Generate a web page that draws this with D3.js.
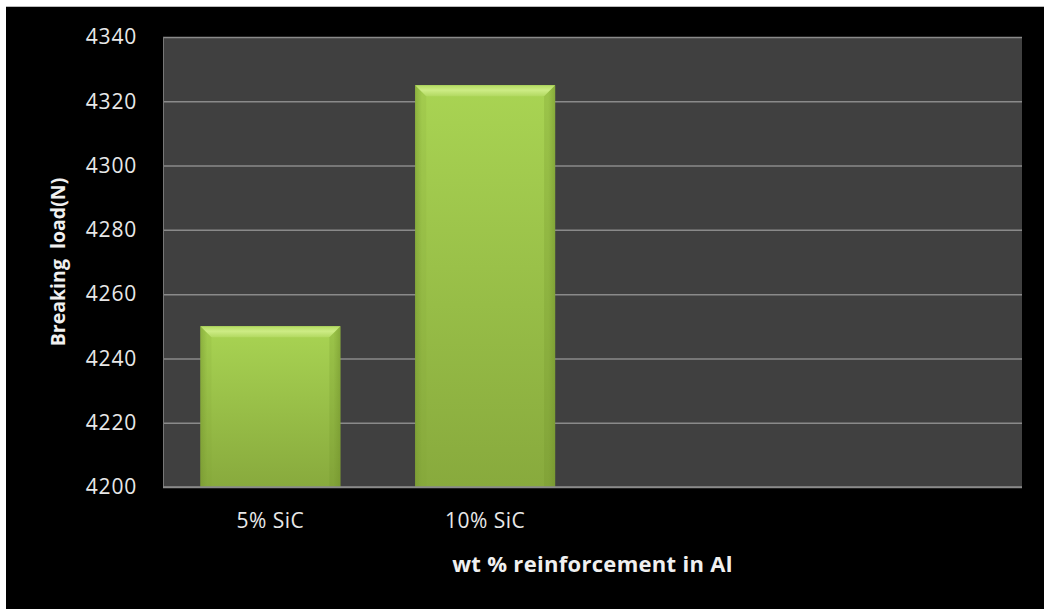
<!DOCTYPE html>
<html>
<head>
<meta charset="utf-8">
<script src="https://cdn.jsdelivr.net/npm/d3@7"></script>
<style>
  body { margin: 0; background: #fff; }
  svg { display: block; }
  text { font-family: "Open Sans", "Noto Sans", sans-serif; }
</style>
</head>
<body>
<script>
// values
var categories = ["5% SiC", "10% SiC", "", ""]
var breakingLoad = [4250, 4325, null, null]
var yTicks = [4200, 4220, 4240, 4260, 4280, 4300, 4320, 4340]

var width = 1044
var height = 609
var margin = {top: 37, right: 22, bottom: 122, left: 163}
var plotW = width - margin.left - margin.right
var plotH = height - margin.top - margin.bottom

var svg = d3.select("body").append("svg")
    .attr("width", width)
    .attr("height", height)

// black frame, white sliver top/left like the screenshot
svg.append("rect")
    .attr("x", 6).attr("y", 7)
    .attr("width", width - 6).attr("height", height - 7)
    .attr("fill", "#000")
svg.append("line")
    .attr("x1", 6).attr("x2", width).attr("y1", 6.5).attr("y2", 6.5)
    .attr("stroke", "#bbb")

var defs = svg.append("defs")
var grad = defs.append("linearGradient")
    .attr("id", "barFill").attr("x1", 0).attr("x2", 0).attr("y1", 0).attr("y2", 1)
grad.append("stop").attr("offset", "0%").attr("stop-color", "#a9d453")
grad.append("stop").attr("offset", "100%").attr("stop-color", "#88aa3d")

var side = defs.append("linearGradient")
    .attr("id", "barSide").attr("x1", 0).attr("x2", 1).attr("y1", 0).attr("y2", 0)
side.append("stop").attr("offset", "0%").attr("stop-color", "#6f8f2a").attr("stop-opacity", 0.45)
side.append("stop").attr("offset", "5%").attr("stop-color", "#6f8f2a").attr("stop-opacity", 0)
side.append("stop").attr("offset", "95%").attr("stop-color", "#6f8f2a").attr("stop-opacity", 0)
side.append("stop").attr("offset", "100%").attr("stop-color", "#6f8f2a").attr("stop-opacity", 0.45)

var bevelGrad = defs.append("linearGradient")
    .attr("id", "bevelFill").attr("x1", 0).attr("x2", 0).attr("y1", 0).attr("y2", 1)
bevelGrad.append("stop").attr("offset", "0%").attr("stop-color", "#b4dc62")
bevelGrad.append("stop").attr("offset", "45%").attr("stop-color", "#cdec85")
bevelGrad.append("stop").attr("offset", "100%").attr("stop-color", "#b2d961")

var g = svg.append("g")
    .attr("transform", "translate(" + margin.left + "," + margin.top + ")")

var x = d3.scaleBand()
    .domain(d3.range(categories.length))
    .range([0, plotW])
    .paddingInner(0.348)
    .paddingOuter(0.174)

var y = d3.scaleLinear()
    .domain([4200, 4340])
    .range([plotH, 0])

g.append("rect")
    .attr("width", plotW).attr("height", plotH)
    .attr("fill", "#404040")

// gridlines
g.append("g")
    .call(d3.axisLeft(y).tickValues(yTicks).tickSize(-plotW).tickFormat(""))
    .call(function(a) {
        a.select(".domain").remove()
        a.selectAll("line").attr("stroke", "#8a8a8a").attr("stroke-width", 1.5)
    })

g.append("line")
    .attr("x1", 0.5).attr("x2", 0.5).attr("y1", 0).attr("y2", plotH)
    .attr("stroke", "#777")

// bars
var data = categories.map(function(c, i) { return {i: i, name: c, v: breakingLoad[i]} })
    .filter(function(d) { return d.v != null })

var bars = g.selectAll(".bar").data(data).enter().append("g").attr("class", "bar")

bars.append("rect")
    .attr("x", function(d) { return x(d.i) })
    .attr("y", function(d) { return y(d.v) })
    .attr("width", x.bandwidth())
    .attr("height", function(d) { return plotH - y(d.v) })
    .attr("fill", "url(#barFill)")
bars.append("rect")
    .attr("x", function(d) { return x(d.i) })
    .attr("y", function(d) { return y(d.v) })
    .attr("width", x.bandwidth())
    .attr("height", function(d) { return plotH - y(d.v) })
    .attr("fill", "url(#barSide)")

// top bevel
var bev = 11
bars.append("path")
    .attr("d", function(d) {
        var x0 = x(d.i), x1 = x0 + x.bandwidth(), t = y(d.v)
        return "M" + x0 + "," + t + "L" + x1 + "," + t + "L" + (x1 - bev) + "," + (t + bev) +
            "L" + (x0 + bev) + "," + (t + bev) + "Z"
    })
    .attr("fill", "url(#bevelFill)")
bars.append("path")
    .attr("d", function(d) {
        var x0 = x(d.i), x1 = x0 + x.bandwidth(), t = y(d.v)
        return "M" + x0 + "," + t + "L" + (x0 + bev) + "," + (t + bev) + "L" + (x0 + bev) + "," + plotH +
            "L" + x0 + "," + plotH + "Z"
    })
    .attr("fill", "#7f9f34").attr("opacity", 0.15)
bars.append("path")
    .attr("d", function(d) {
        var x1 = x(d.i) + x.bandwidth(), t = y(d.v)
        return "M" + x1 + "," + t + "L" + (x1 - bev) + "," + (t + bev) + "L" + (x1 - bev) + "," + plotH +
            "L" + x1 + "," + plotH + "Z"
    })
    .attr("fill", "#6f8f2a").attr("opacity", 0.22)

// bottom line over bars
g.append("line")
    .attr("x1", 0).attr("x2", plotW).attr("y1", plotH).attr("y2", plotH)
    .attr("stroke", "#8a8a8a").attr("stroke-width", 1.5)

// y axis labels
g.append("g")
    .call(d3.axisLeft(y).tickValues(yTicks).tickSize(0).tickPadding(26).tickFormat(d3.format("d")))
    .call(function(a) {
        a.select(".domain").remove()
        a.selectAll("text")
            .attr("fill", "#e8e8e8")
            .style("font-size", "21px")
            .style("letter-spacing", "0.8px")
    })

// x axis labels
g.append("g")
    .attr("transform", "translate(0," + plotH + ")")
    .call(d3.axisBottom(x).tickSize(0).tickPadding(26).tickFormat(function(i) { return categories[i] }))
    .call(function(a) {
        a.select(".domain").remove()
        a.selectAll("text")
            .attr("fill", "#e8e8e8")
            .style("font-size", "21px")
            .style("letter-spacing", "0.5px")
    })

g.append("text")
    .attr("x", plotW / 2)
    .attr("y", plotH + 85)
    .attr("text-anchor", "middle")
    .attr("fill", "#f0f0f0")
    .style("font-size", "22px")
    .style("font-weight", "bold")
    .style("letter-spacing", "0.3px")
    .text("wt % reinforcement in Al")

g.append("text")
    .attr("transform", "translate(" + (58 - margin.left + 7) + "," + (plotH / 2) + ") rotate(-90)")
    .attr("text-anchor", "middle")
    .attr("fill", "#f0f0f0")
    .style("font-size", "19.5px")
    .style("font-weight", "bold")
    .style("white-space", "pre")
    .text("Breaking  load(N)")
</script>
</body>
</html>
